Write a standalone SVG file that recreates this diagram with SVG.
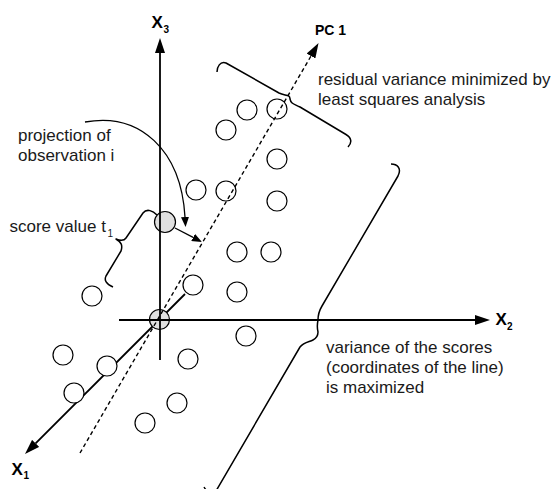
<svg xmlns="http://www.w3.org/2000/svg" width="556" height="489" viewBox="0 0 556 489">
<style>
  .lbl { font-family: "Liberation Sans", Arial, Helvetica, sans-serif; font-size: 17px; fill: #1a1a1a; }
  .ax { font-family: "Liberation Sans", Arial, Helvetica, sans-serif; font-size: 17px; font-weight: bold; fill: #000; }
  .sub { font-size: 10px; }
  .axis { stroke: #000; stroke-width: 1.8; fill: none; }
  .thin { stroke: #000; stroke-width: 1.3; fill: none; }
  .brace { stroke: #000; stroke-width: 1.5; fill: none; stroke-linejoin: round; }
  .dash { stroke: #000; stroke-width: 1.4; fill: none; stroke-dasharray: 4 3; }
  .obs { fill: #fff; stroke: #000; stroke-width: 1.2; }
  .proj { fill: #e0e0e0; stroke: #000; stroke-width: 1.2; }
</style>
<defs>
  <marker id="big" viewBox="0 -5 15 10" refX="0" refY="0" markerWidth="15" markerHeight="10" markerUnits="userSpaceOnUse" orient="auto">
    <path d="M0,-5 L15,0 L0,5 z" fill="#000"/>
  </marker>
  <marker id="small" viewBox="0 -4 10 8" refX="0" refY="0" markerWidth="10" markerHeight="8" markerUnits="userSpaceOnUse" orient="auto">
    <path d="M0,-4 L10,0 L0,4 z" fill="#000"/>
  </marker>
</defs>
<rect width="556" height="489" fill="#fff"/>

<g id="connectors">
  <line id="axis-x1" class="axis" x1="185" y1="294" x2="35.6" y2="443.4" marker-end="url(#big)"/>
</g>

<g id="observations">
  <circle class="obs" cx="247" cy="110" r="10"/>
  <circle class="obs" cx="277" cy="109" r="10"/>
  <circle class="obs" cx="226" cy="130" r="10"/>
  <circle class="obs" cx="277" cy="159" r="10"/>
  <circle class="obs" cx="196" cy="190" r="10"/>
  <circle class="obs" cx="226" cy="191" r="10"/>
  <circle class="obs" cx="277" cy="201" r="10"/>
  <circle class="obs" cx="237" cy="252" r="10"/>
  <circle class="obs" cx="271" cy="252" r="10"/>
  <circle class="obs" cx="237" cy="292" r="10"/>
  <circle class="obs" cx="92" cy="296" r="10"/>
  <circle class="obs" cx="193" cy="285" r="10"/>
  <circle class="obs" cx="246" cy="336" r="10"/>
  <circle class="obs" cx="63" cy="355" r="10"/>
  <circle class="obs" cx="107" cy="366" r="10"/>
  <circle class="obs" cx="188" cy="359" r="10"/>
  <circle class="obs" cx="74" cy="393" r="10"/>
  <circle class="obs" cx="177" cy="403" r="10"/>
  <circle class="obs" cx="145" cy="423" r="10"/>
</g>

<g id="projected-points">
  <circle id="observation-i" class="proj" cx="165" cy="222" r="10.5"/>
  <circle id="origin" class="proj" cx="159.5" cy="319.5" r="10"/>
</g>

<g id="axes">
  <line id="axis-x3" class="axis" x1="160" y1="360" x2="160" y2="53" marker-end="url(#big)"/>
  <line id="axis-x2" class="axis" x1="119" y1="320" x2="475" y2="320" marker-end="url(#big)"/>
  <line id="pc1" class="dash" x1="80" y1="453" x2="311" y2="56" marker-end="url(#big)"/>
</g>

<g id="arrows">
  <path id="projection-arrow" class="thin" d="M85,122 C140,112 181,150 185,217" marker-end="url(#small)"/>
  <line id="score-arrow" class="thin" x1="175" y1="228" x2="193.1" y2="237.4" marker-end="url(#small)"/>
</g>

<g id="braces">
  <path id="residual-brace" class="brace" d="M217,72 C217,67 220,61 226,63 L279,93 C285,96 290,94 290,99 C291,104 294,104 300,107 L346,134.5 C352,138 352,143 348,147"/>
  <path id="score-brace" class="brace" d="M157,215 C153,211 147,208 143,213 L126,238 C124,241 121,241 116,239 C121,242 123,245 121,251 L106,276 C104,280 106,284 113,287"/>
  <path id="variance-brace" class="brace" d="M391,164 C397,164 402,168 398,176 L322,306 C319,311 318,315 318,320 C317,325 317,328 318,332 C318,336 317,338 313,340 C309,342 304,342 300,347 L216,491 C214,495 208,494 204,487"/>
</g>

<g id="labels">
  <text class="ax" x="151.5" y="28.3">X<tspan class="sub" x="163.5" y="33">3</tspan></text>
  <text class="ax" x="495.5" y="325">X<tspan class="sub" x="507" y="330">2</tspan></text>
  <text class="ax" x="11.5" y="475">X<tspan class="sub" x="23.5" y="479">1</tspan></text>
  <text class="ax" x="315" y="35" style="font-size:14px">PC 1</text>
  <text class="lbl" x="318" y="85">residual variance minimized by</text>
  <text class="lbl" x="318" y="105">least squares analysis</text>
  <text class="lbl" x="18" y="141">projection of</text>
  <text class="lbl" x="18" y="160.5">observation i</text>
  <text class="lbl" x="9.5" y="231.5">score value t<tspan class="sub" x="107.5" y="236.5">1</tspan></text>
  <text class="lbl" x="326" y="352.5">variance of the scores</text>
  <text class="lbl" x="326" y="372.5">(coordinates of the line)</text>
  <text class="lbl" x="326" y="392.5">is maximized</text>
</g>
</svg>
